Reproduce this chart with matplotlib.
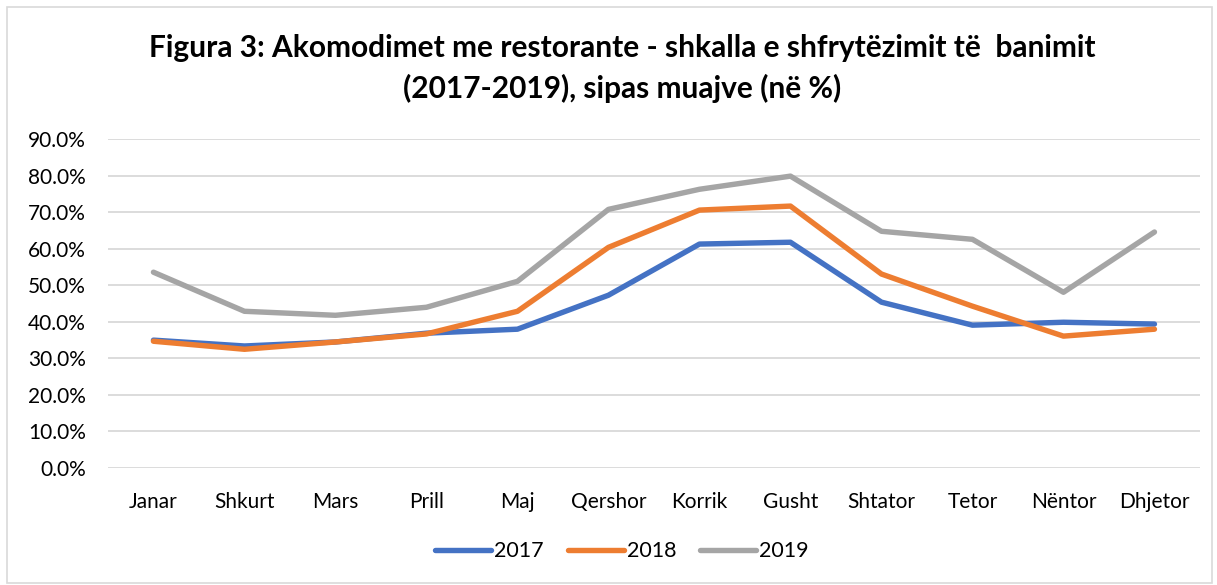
import matplotlib.pyplot as plt
from matplotlib.patches import Rectangle

months = ['Janar', 'Shkurt', 'Mars', 'Prill', 'Maj', 'Qershor', 'Korrik',
          'Gusht', 'Shtator', 'Tetor', 'Nëntor', 'Dhjetor']
v2017 = [35.0, 33.4, 34.5, 36.9, 38.0, 47.3, 61.3, 61.8, 45.4, 39.1, 39.9, 39.4]
v2018 = [34.7, 32.5, 34.5, 36.7, 42.9, 60.4, 70.6, 71.7, 53.1, 44.3, 36.1, 38.0]
v2019 = [53.6, 42.9, 41.8, 44.0, 51.1, 70.8, 76.3, 79.9, 64.8, 62.6, 48.1, 64.6]
yticks = [0, 10, 20, 30, 40, 50, 60, 70, 80, 90]

plt.rcParams['font.family'] = ['Lato', 'DejaVu Sans']

fig = plt.figure(figsize=(12.17, 5.85), dpi=100)
fig.patches.append(Rectangle((0.006, 0.004), 0.99, 0.984, transform=fig.transFigure,
                             fill=False, edgecolor='#d9d9d9', linewidth=1.2))

ax = fig.add_axes([0.0887, 0.2, 0.8973, 0.562])
x = range(len(months))
ax.plot(x, v2017, color='#4472C4', lw=3.9, label='2017', solid_capstyle='round')
ax.plot(x, v2018, color='#ED7D31', lw=3.9, label='2018', solid_capstyle='round')
ax.plot(x, v2019, color='#A5A5A5', lw=3.9, label='2019', solid_capstyle='round')

ax.set_xlim(-0.5, len(months) - 0.5)
ax.set_ylim(0, 90)
ax.set_yticks(yticks)
ax.set_yticklabels([f'{v:.1f}%' for v in yticks])
ax.set_xticks(list(x))
ax.set_xticklabels(months)
ax.tick_params(axis='both', length=0, labelsize=15, colors='#000000')
ax.tick_params(axis='y', pad=16)
ax.tick_params(axis='x', pad=17)
ax.grid(axis='y', color='#d9d9d9', lw=1.3)
ax.set_axisbelow(True)
for s in ax.spines.values():
    s.set_visible(False)

fig.text(0.511, 0.918, 'Figura 3: Akomodimet me restorante - shkalla e shfrytëzimit të  banimit',
         ha='center', va='center', fontsize=21.5, fontweight='bold')
fig.text(0.511, 0.849, '(2017-2019), sipas muajve (në %)',
         ha='center', va='center', fontsize=21.5, fontweight='bold')

fig.legend(loc='center', bbox_to_anchor=(0.511, 0.058), ncol=3, frameon=False,
           fontsize=15.5, handlelength=2.6, handletextpad=0.15, columnspacing=1.1)

fig.savefig('out.png', dpi=100)
